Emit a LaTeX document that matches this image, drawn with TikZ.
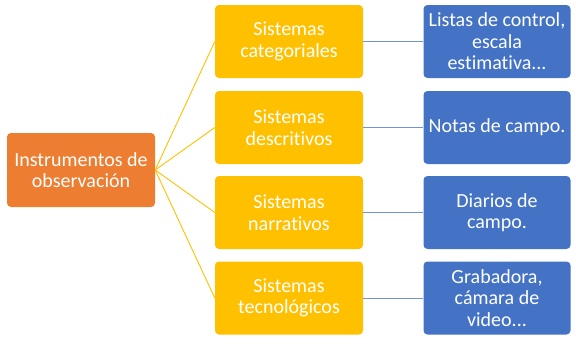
\documentclass[tikz,border=0pt]{standalone}
\usepackage{fontspec}
\setmainfont{Carlito}[Ligatures=NoCommon]
\definecolor{orangeA}{HTML}{ED7D31}
\definecolor{goldA}{HTML}{FFC000}
\definecolor{blueA}{HTML}{4472C4}
\definecolor{blueL}{HTML}{7094D2}
\begin{document}
\begin{tikzpicture}[x=1pt,y=-1pt,
  box/.style={rounded corners=4pt, minimum height=73pt, align=center, text=white,
    font=\fontsize{20}{21.5}\selectfont, inner sep=0pt},
  rootbox/.style={box, fill=orangeA, minimum width=148pt, minimum height=74pt},
  midbox/.style={box, fill=goldA, minimum width=148pt},
  leafbox/.style={box, fill=blueA, minimum width=147pt},
  goldline/.style={draw=goldA, line width=0.9pt},
  blueline/.style={draw=blueL, line width=0.9pt}]
\useasboundingbox (0,0) rectangle (576,351);
\node[rootbox] (root) at (81,170) {Instrumentos de\\observación};
\node[midbox] (m1) at (289,41.5) {Sistemas\\categoriales};
\node[midbox] (m2) at (289,127.5) {Sistemas\\descritivos};
\node[midbox] (m3) at (289,212.5) {Sistemas\\narrativos};
\node[midbox] (m4) at (289,298) {Sistemas\\tecnológicos};
\node[leafbox] (l1) at (497,41.5) {Listas de control,\\escala\\estimativa...};
\node[leafbox] (l2) at (497,127.5) {Notas de campo.};
\node[leafbox] (l3) at (497,212.5) {Diarios de\\campo.};
\node[leafbox] (l4) at (497,298) {Grabadora,\\cámara de\\video...};
\foreach \m in {m1,m2,m3,m4} \draw[goldline] (root.east) -- (\m.west);
\foreach \i in {1,2,3,4} \draw[blueline] (m\i.east) -- (l\i.west);
\end{tikzpicture}
\end{document}
